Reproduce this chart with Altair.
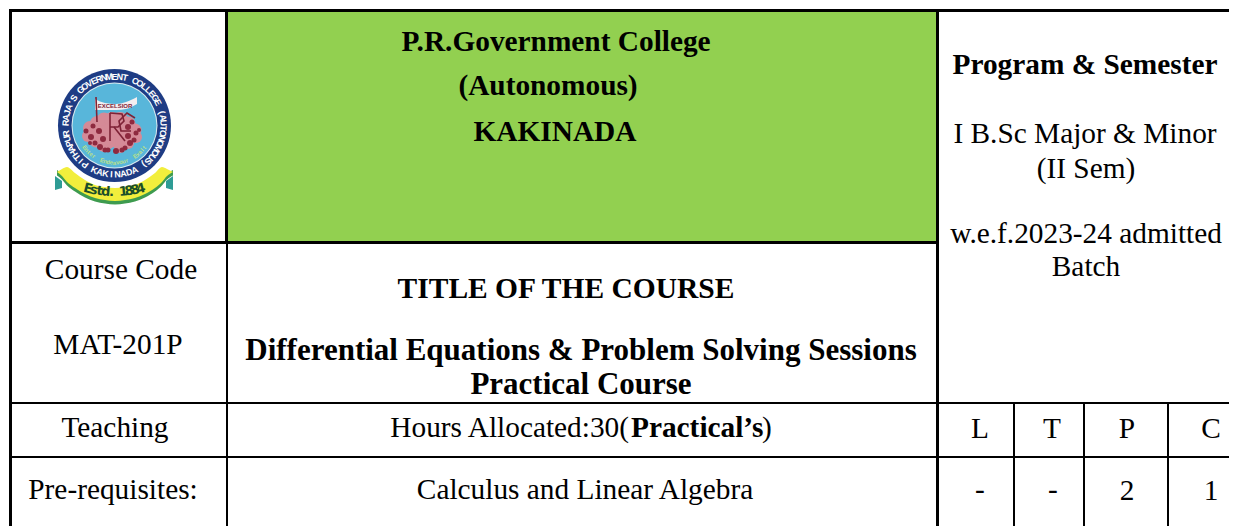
import math
import altair as alt
import pandas as pd

# ---- table text -------------------------------------------------------
reg_text = ["Course Code", "MAT-201P", "Teaching", "Pre-requisites:",
            "I B.Sc Major & Minor", "(II Sem)", "w.e.f.2023-24 admitted", "Batch",
            "Calculus and Linear Algebra", "L", "T", "P", "C", "-", "-", "2", "1"]
reg_x = [121, 118, 115, 113, 1085, 1086, 1086, 1086, 585, 980, 1052, 1127, 1211, 980, 1053, 1127, 1211]
reg_y = [279, 354, 437, 499, 143, 178, 243, 276, 499, 438, 438, 438, 438, 499, 499, 500, 500]

bold_text = ["P.R.Government College", "(Autonomous)", "KAKINADA", "Program & Semester"]
bold_x = [556, 548, 555, 1085]
bold_y = [51, 95, 141, 74]

course_text = ["Differential Equations & Problem Solving Sessions", "Practical Course"]
course_x = [581, 581]
course_y = [360, 394]
title_text = ["TITLE OF THE COURSE"]
title_x = [566]
title_y = [298]

hours_left = "Hours Allocated:30("
hours_bold = "Practical\u2019s"
hours_right = ")"

# ---- table geometry ---------------------------------------------------
rule_x1 = [9, 9, 225, 226, 9, 936, 9, 9, 1013, 1083, 1167]
rule_x2 = [1229, 12, 228, 228, 936, 939, 1229, 1229, 1015, 1085, 1169]
rule_y1 = [9, 9, 9, 241, 241, 9, 402, 456, 402, 402, 402]
rule_y2 = [12, 526, 241, 526, 244, 526, 404, 458, 526, 526, 526]

# ---- logo -------------------------------------------------------------
ribbon_x = [57, 62, 67, 75, 85, 95, 105, 115, 125, 135, 145, 155, 162, 167, 173]
ribbon_top = [172, 169, 167, 173, 180, 185, 187, 188, 187, 185, 180, 173, 167, 169, 172]
ribbon_bot = [174, 178, 184, 190, 196, 200, 202, 203, 202, 200, 196, 190, 184, 178, 174]
tail_l_x = [55, 62]
tail_l_top = [176, 181]
tail_l_bot = [190, 188]
tail_r_x = [166, 173]
tail_r_top = [181, 176]
tail_r_bot = [188, 190]

flag_x = [95, 105, 116, 126, 137]
flag_top = [99, 103, 104, 102, 97]
flag_bot = [110, 110, 110, 109, 104]

blob_x = [90, 97, 104, 112, 120, 128, 135, 88, 96, 136, 104, 120, 128, 112, 100, 118, 108, 126]
blob_y = [128, 123, 120, 120, 120, 124, 130, 136, 141, 137, 146, 147, 143, 133, 134, 138, 141, 133]
blob_d = [14, 14, 15, 16, 16, 15, 13, 12, 13, 12, 12, 12, 12, 22, 17, 20, 16, 16]

dark_x = [86, 91, 95, 100, 105, 93, 99, 128, 132, 136, 125, 130, 134, 108, 116, 122, 103, 128, 90, 139]
dark_y = [131, 137, 143, 147, 150, 126, 131, 127, 122, 133, 148, 143, 140, 150, 151, 150, 139, 136, 143, 130]
dark_d = [5, 6, 5, 6, 5, 5, 6, 6, 5, 5, 5, 6, 5, 5, 6, 5, 6, 6, 4, 4]

stroke_id = ["pole", "pole", "P", "P", "P2", "P2", "P2", "P2", "P2", "R", "R", "C", "C", "C", "C", "C"]
stroke_x = [96, 97, 110, 110, 110, 122, 124, 118, 110, 114, 125, 135, 127, 119, 121, 131]
stroke_y = [97, 122, 113, 141, 113, 114, 121, 127, 127, 127, 141, 118, 113, 121, 131, 131]

ring_text = "PITHAPUR RAJA'S GOVERNMENT COLLEGE (AUTONOMOUS)"
kak_text = "KAKINADA"
estd_text = "Estd. 1884"
motto_text = "Enter  Endeavour  Exalt"

cx, cy = 114.5, 125.5


def arc_letters(text, c_x, c_y, radius, start, end, inside=False):
    """Place each letter on a circle; angles in degrees clockwise from the top."""
    rows = []
    n = len(text)
    for i, ch in enumerate(text):
        t = start + (end - start) * (i + 0.5) / n
        r = math.radians(t)
        px = c_x + radius * math.sin(r)
        py = c_y - radius * math.cos(r)
        a = t + 180 if inside else t
        rows.append({"t": ch, "x": px, "y": py, "a": a % 360})
    return pd.DataFrame(rows)


xscale = alt.Scale(domain=[8, 1229], range=[0, 1221], nice=False, zero=False)
yscale = alt.Scale(domain=[8, 526], range=[0, 518], nice=False, zero=False)
X = alt.X("x:Q", axis=None, scale=xscale)
Y = alt.Y("y:Q", axis=None, scale=yscale)


def text_layer(texts, xs, ys, size, weight="normal", font="Liberation Serif", align="center", color="#000000"):
    df = pd.DataFrame({"t": texts, "x": xs, "y": ys})
    return alt.Chart(df).mark_text(font=font, fontSize=size, fontWeight=weight, align=align,
                                   baseline="alphabetic", color=color).encode(x=X, y=Y, text="t:N")


def arc_layer(df, size, color, weight="bold", font="Liberation Sans"):
    return alt.Chart(df).mark_text(font=font, fontSize=size, fontWeight=weight, align="center",
                                   baseline="middle", color=color).encode(
        x=X, y=Y, text="t:N", angle=alt.Angle("a:Q", scale=None))


def circle(x, y, d, color):
    return alt.Chart(pd.DataFrame({"x": [x], "y": [y]})).mark_point(
        filled=True, shape="circle", size=d * d, color=color, opacity=1).encode(x=X, y=Y)


def dots(xs, ys, ds, color):
    df = pd.DataFrame({"x": xs, "y": ys, "d": [d * d for d in ds]})
    return alt.Chart(df).mark_point(filled=True, shape="circle", color=color, opacity=1).encode(
        x=X, y=Y, size=alt.Size("d:Q", scale=None, legend=None))


def band(xs, top, bot, color):
    df = pd.DataFrame({"x": xs, "y": top, "y2": bot})
    return alt.Chart(df).mark_area(color=color, interpolate="monotone").encode(x=X, y=Y, y2="y2:Q")


green = alt.Chart(pd.DataFrame({"x": [228], "x2": [936], "y": [12], "y2": [241]})).mark_rect(
    color="#92D050").encode(x=X, x2="x2:Q", y=Y, y2="y2:Q")

rules = alt.Chart(pd.DataFrame({"x": rule_x1, "x2": rule_x2, "y": rule_y1, "y2": rule_y2})).mark_rect(
    color="#000000").encode(x=X, x2="x2:Q", y=Y, y2="y2:Q")

logo = [
    band(tail_l_x, tail_l_top, tail_l_bot, "#2E9C95"),
    band(tail_r_x, tail_r_top, tail_r_bot, "#2E9C95"),
    band(ribbon_x, [b - 4 for b in ribbon_bot], [b + 1.5 for b in ribbon_bot], "#3E9B4F"),
    band(ribbon_x, ribbon_top, [b - 2 for b in ribbon_bot], "#F2EE3C"),
    circle(cx, cy, 113, "#1E3C84"),
    circle(cx, cy, 86, "#DCEBF0"),
    circle(cx, cy, 84, "#58B6DA"),
    dots(blob_x, blob_y, blob_d, "#D58A97"),
    dots(dark_x, dark_y, dark_d, "#8E2A3F"),
    band(flag_x, flag_top, flag_bot, "#F3EEF0"),
    alt.Chart(pd.DataFrame({"id": stroke_id, "x": stroke_x, "y": stroke_y, "o": list(range(len(stroke_x)))})).mark_line(
        color="#7E2236", strokeWidth=1.6).encode(x=X, y=Y, detail="id:N", order="o:Q"),
    arc_layer(arc_letters(ring_text, cx, cy, 49, -146, 146), 9, "#FFFFFF"),
    arc_layer(arc_letters(kak_text, cx, cy, 49, 208, 152, inside=True), 9, "#FFFFFF"),
    arc_layer(arc_letters(motto_text, cx, cy, 37, 236, 124, inside=True), 6, "#B7E08A"),
    arc_layer(arc_letters(estd_text, cx, 86, 106, 196, 164, inside=True), 13, "#1C4F2A", font="DejaVu Sans"),
    text_layer(["EXCELSIOR"], [115], [108], 6, weight="bold", font="Liberation Sans", color="#7E2236"),
]

chart = alt.layer(
    green,
    rules,
    *logo,
    text_layer(reg_text, reg_x, reg_y, 29.33),
    text_layer(bold_text, bold_x, bold_y, 29.33, weight="bold"),
    text_layer(title_text, title_x, title_y, 29.5, weight="bold"),
    text_layer(course_text, course_x, course_y, 31, weight="bold"),
    text_layer([hours_left], [629], [437], 29.33, align="right"),
    text_layer([hours_bold], [631], [437], 29.33, weight="bold", align="left"),
    text_layer([hours_right], [762], [437], 29.33, align="left"),
).properties(width=1221, height=518, padding=0, background="#FFFFFF").configure_view(stroke=None)

chart.save("out.html", embed_options={"renderer": "svg", "actions": False})
